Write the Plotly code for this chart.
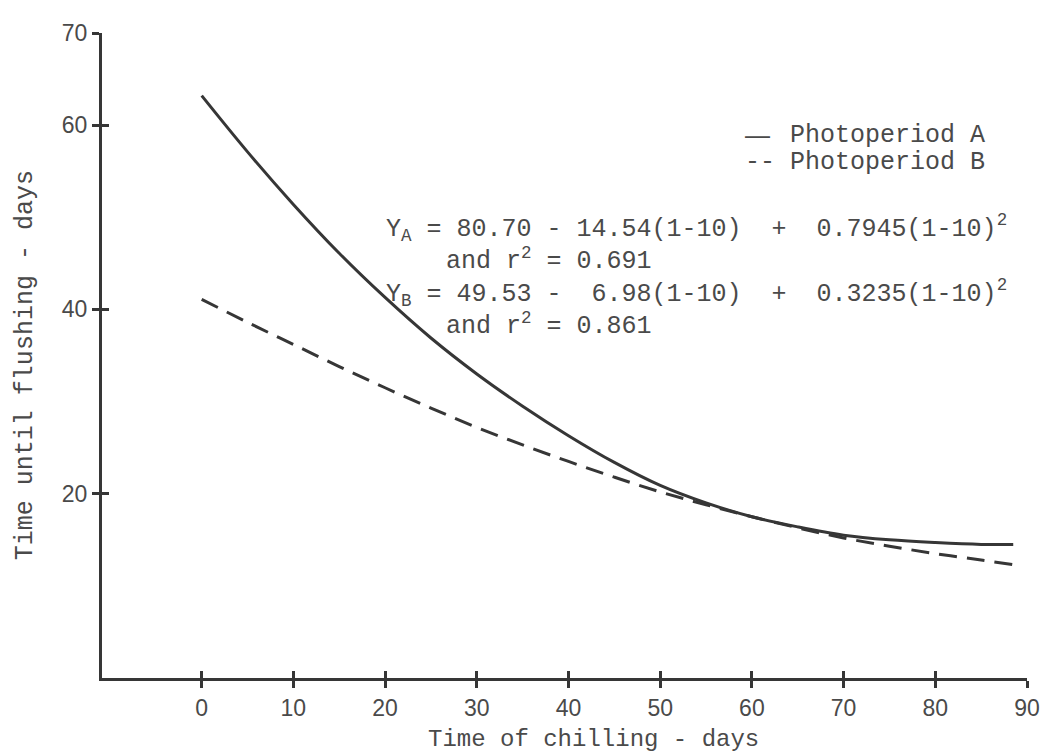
import plotly.graph_objects as go

# values
chill_days_a = [0, 5, 10, 15, 20, 25, 30, 35, 40, 45, 50, 55, 60, 65, 70, 75, 80, 85, 88.5]
flush_days_a = [63.2, 57.1, 51.4, 46.1, 41.3, 36.9, 33.0, 29.5, 26.3, 23.4, 20.9, 19.0,
                17.5, 16.4, 15.5, 15.0, 14.7, 14.5, 14.5]
chill_days_b = [0, 5, 10, 15, 20, 25, 30, 35, 40, 45, 50, 55, 60, 65, 70, 75, 80, 85, 89.3]
flush_days_b = [41.1, 38.6, 36.2, 33.8, 31.5, 29.3, 27.2, 25.3, 23.5, 21.8, 20.2, 18.8,
                17.5, 16.3, 15.2, 14.3, 13.5, 12.8, 12.2]

x_ticks = [0, 10, 20, 30, 40, 50, 60, 70, 80, 90]
y_ticks = [20, 40, 60, 70]

legend_a = 'Photoperiod A'
legend_b = 'Photoperiod B'
eq_lines = [
    'Y<sub>A</sub> = 80.70 - 14.54(1-10)  +  0.7945(1-10)<sup>2</sup>',
    '    and r<sup>2</sup> = 0.691',
    'Y<sub>B</sub> = 49.53 -  6.98(1-10)  +  0.3235(1-10)<sup>2</sup>',
    '    and r<sup>2</sup> = 0.861',
]
x_title = 'Time of chilling - days'
y_title = 'Time until flushing - days'

# the page body has an 8px margin, so the figure is drawn 8px smaller
OFF = 8
W, H = 1052 - OFF, 754 - OFF
PL, PR, PT, PB = 102, 1030, 27, 678      # plot box in page pixels
INK = '#363636'
TXT = '#4a4a4a'
MONO = 'Liberation Mono, Courier New, monospace'
SANS = 'Liberation Sans, Arial, sans-serif'


def px(xp):
    return (xp - PL) / (PR - PL)


def py(yp):
    return (PB - yp) / (PB - PT)


def nb(s):
    return s.replace(' ', '\u00a0')


fig = go.Figure()
fig.add_trace(go.Scatter(x=chill_days_a, y=flush_days_a, mode='lines', line_shape='spline',
                         line=dict(color=INK, width=3), name=legend_a))
fig.add_trace(go.Scatter(x=chill_days_b, y=flush_days_b, mode='lines', line_shape='spline',
                         line=dict(color=INK, width=3, dash='18px,10px'), name=legend_b))
# empty trace so the overlay axes (inner halves of the crossing ticks) get drawn
fig.add_trace(go.Scatter(x=[None], y=[None], xaxis='x2', yaxis='y2', mode='lines',
                         hoverinfo='skip', showlegend=False))

xr = [-10.87, 90]
yr = [0, 70]
axis_common = dict(showgrid=False, zeroline=False)
fig.update_layout(
    width=W, height=H,
    margin=dict(l=PL - OFF, r=W - (PR - OFF), t=PT - OFF, b=H - (PB - OFF)),
    paper_bgcolor='white', plot_bgcolor='white',
    showlegend=False,
    xaxis=dict(range=xr, tickmode='array', tickvals=x_ticks, ticks='outside', ticklen=7,
               tickwidth=3, tickcolor=INK, showline=True, linecolor=INK, linewidth=3,
               tickfont=dict(family=SANS, size=23, color=TXT), ticklabelstandoff=0,
               **axis_common),
    xaxis2=dict(range=xr, overlaying='x', anchor='y', side='bottom', tickmode='array',
                tickvals=x_ticks, ticks='inside', ticklen=7, tickwidth=3, tickcolor=INK,
                showticklabels=False, showline=False, **axis_common),
    yaxis=dict(range=yr, tickmode='array', tickvals=y_ticks,
               ticks='outside', ticklen=7, tickwidth=3, tickcolor=INK, showline=True,
               linecolor=INK, linewidth=3, tickfont=dict(family=SANS, size=23, color=TXT),
               ticklabelstandoff=0, **axis_common),
    yaxis2=dict(range=yr, overlaying='y', anchor='x', side='left', tickmode='array',
                tickvals=y_ticks, ticks='inside', ticklen=7, tickwidth=3, tickcolor=INK,
                showticklabels=False, showline=False, **axis_common),
)

mono = dict(family=MONO, size=25, color=TXT)
notes = [
    (745, 130, '—', dict(family=SANS, size=25, color=TXT)),
    (745, 158, '--', mono),
    (790, 130, legend_a, mono),
    (790, 158, legend_b, mono),
]
for xp, yp, text, font in notes:
    fig.add_annotation(xref='paper', yref='paper', x=px(xp), y=py(yp), text=nb(text),
                       showarrow=False, xanchor='left', yanchor='middle', font=font)

fig.add_annotation(xref='paper', yref='paper', x=px(385), y=py(272),
                   text=nb('<br>'.join(eq_lines)), align='left',
                   showarrow=False, xanchor='left', yanchor='middle', font=mono)

fig.add_annotation(xref='paper', yref='paper', x=px(595), y=py(740), text=nb(x_title),
                   showarrow=False, xanchor='center', yanchor='middle',
                   font=dict(family=MONO, size=24, color=TXT))
fig.add_annotation(xref='paper', yref='paper', x=px(26), y=py(362), text=nb(y_title),
                   textangle=-90, showarrow=False, xanchor='center', yanchor='middle',
                   font=mono)

fig.write_html("out.html")
